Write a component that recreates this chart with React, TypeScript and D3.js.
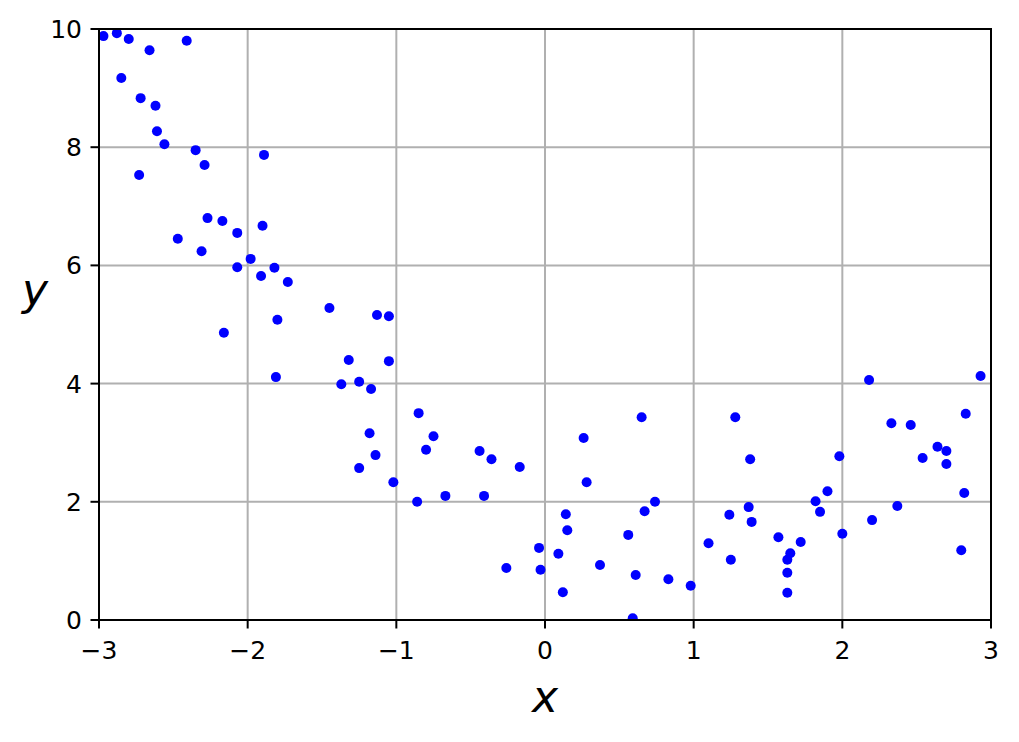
import React from "react";
import * as d3 from "d3";

const xValues: number[] = [
  -2.97, -2.88, -2.80, -2.66, -2.41, -2.85, -2.72, -2.62, -2.61, -2.56,
  -2.35, -2.29, -1.89, -2.73, -2.27, -2.17, -1.90, -2.47, -2.07, -2.31,
  -1.98, -2.07, -1.82, -1.91, -1.73, -2.16, -1.80, -1.45, -1.13, -1.05,
  -1.81, -1.32, -1.05, -1.37, -1.25, -1.17, -1.18, -1.25, -1.14, -1.02,
  -0.85, -0.75, -0.80, -0.86, -0.67, -0.44, -0.36, -0.41, -0.17, -0.26,
  -0.04, -0.03, 0.09, 0.12, 0.14, 0.15, 0.26, 0.28, 0.37, 0.56,
  0.61, 0.59, 0.65, 0.67, 0.74, 0.83, 0.98, 1.10, 1.24, 1.25,
  1.28, 1.38, 1.37, 1.39, 1.57, 1.65, 1.63, 1.63, 1.63, 1.72,
  1.82, 1.85, 1.90, 1.98, 2.00, 2.18, 2.20, 2.33, 2.37, 2.46,
  2.54, 2.64, 2.70, 2.70, 2.80, 2.82, 2.83, 2.93,
];
const yValues: number[] = [
  9.88, 9.93, 9.83, 9.64, 9.80, 9.17, 8.83, 8.70, 8.27, 8.05,
  7.95, 7.70, 7.87, 7.53, 6.80, 6.75, 6.67, 6.45, 6.55, 6.24,
  6.11, 5.97, 5.96, 5.82, 5.72, 4.86, 5.08, 5.28, 5.16, 5.14,
  4.11, 4.40, 4.38, 3.99, 4.03, 3.91, 3.16, 2.57, 2.79, 2.33,
  3.50, 3.11, 2.88, 2.00, 2.10, 2.86, 2.72, 2.10, 2.59, 0.88,
  1.22, 0.85, 1.12, 0.47, 1.79, 1.52, 3.08, 2.33, 0.93, 1.44,
  0.76, 0.03, 3.43, 1.84, 2.00, 0.69, 0.58, 1.30, 1.78, 1.02,
  3.43, 2.72, 1.91, 1.66, 1.40, 1.13, 1.02, 0.80, 0.46, 1.32,
  2.01, 1.83, 2.18, 2.77, 1.46, 4.06, 1.69, 3.33, 1.93, 3.30,
  2.74, 2.93, 2.86, 2.64, 1.18, 2.15, 3.49, 4.13,
];
const xTicks: number[] = [-3, -2, -1, 0, 1, 2, 3];
const yTicks: number[] = [0, 2, 4, 6, 8, 10];

const W = 1019;
const H = 742;
const left = 99;
const right = 991;
const top = 29;
const bottom = 620;

export default function App() {
  const x = d3.scaleLinear().domain([-3, 3]).range([left, right]);
  const y = d3.scaleLinear().domain([0, 10]).range([bottom, top]);
  const fmt = (v: number) => (v < 0 ? "\u2212" + Math.abs(v) : String(v));
  const font = "'DejaVu Sans', sans-serif";
  return (
    <svg
      width={W}
      height={H}
      style={{ position: "absolute", left: 0, top: 0, background: "#fff" }}
    >
      <defs>
        <clipPath id="plotclip">
          <rect x={left} y={top} width={right - left} height={bottom - top} />
        </clipPath>
      </defs>
      <rect x={0} y={0} width={W} height={H} fill="#fff" />
      {xTicks.map((t) => (
        <line key={"gx" + t} x1={x(t)} x2={x(t)} y1={top} y2={bottom} stroke="#b0b0b0" strokeWidth={2} />
      ))}
      {yTicks.map((t) => (
        <line key={"gy" + t} x1={left} x2={right} y1={y(t)} y2={y(t)} stroke="#b0b0b0" strokeWidth={2} />
      ))}
      <g clipPath="url(#plotclip)">
        {xValues.map((xv, i) => (
          <circle key={i} cx={x(xv)} cy={y(yValues[i])} r={5} fill="#0000ff" />
        ))}
      </g>
      <rect x={left} y={top} width={right - left} height={bottom - top} fill="none" stroke="#000" strokeWidth={2} />
      {xTicks.map((t) => (
        <g key={"tx" + t}>
          <line x1={x(t)} x2={x(t)} y1={bottom} y2={bottom + 8.5} stroke="#000" strokeWidth={2} />
          <text x={x(t)} y={bottom + 39} textAnchor="middle" fontFamily={font} fontSize={25}>
            {fmt(t)}
          </text>
        </g>
      ))}
      {yTicks.map((t) => (
        <g key={"ty" + t}>
          <line x1={left - 8.5} x2={left} y1={y(t)} y2={y(t)} stroke="#000" strokeWidth={2} />
          <text x={left - 17} y={y(t) + 9} textAnchor="end" fontFamily={font} fontSize={25}>
            {fmt(t)}
          </text>
        </g>
      ))}
      <text x={(left + right) / 2} y={712} textAnchor="middle" fontFamily={font} fontStyle="italic" fontSize={44}>
        x
      </text>
      <text x={35} y={305} textAnchor="middle" fontFamily={font} fontStyle="italic" fontSize={44}>
        y
      </text>
    </svg>
  );
}
